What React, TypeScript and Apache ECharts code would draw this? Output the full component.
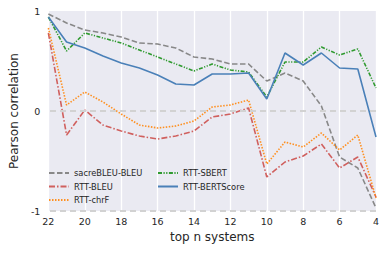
import React, { useEffect, useRef } from "react";
import * as echarts from "echarts";

const topN = [22, 21, 20, 19, 18, 17, 16, 15, 14, 13, 12, 11, 10, 9, 8, 7, 6, 5, 4];
const sacreBleu = [0.97, 0.88, 0.81, 0.78, 0.74, 0.68, 0.67, 0.63, 0.54, 0.52, 0.47, 0.47, 0.30, 0.38, 0.30, 0.05, -0.46, -0.57, -0.97];
const rttBleu = [0.78, -0.24, 0.01, -0.14, -0.20, -0.25, -0.28, -0.25, -0.20, -0.06, -0.03, 0.03, -0.66, -0.51, -0.45, -0.33, -0.57, -0.46, -0.86];
const rttChrf = [0.83, 0.06, 0.19, 0.09, -0.03, -0.14, -0.17, -0.15, -0.10, 0.04, 0.06, 0.11, -0.53, -0.31, -0.36, -0.22, -0.39, -0.24, -0.87];
const rttSbert = [0.94, 0.60, 0.78, 0.73, 0.68, 0.61, 0.54, 0.47, 0.40, 0.47, 0.41, 0.39, 0.14, 0.49, 0.49, 0.64, 0.56, 0.62, 0.23];
const rttBertScore = [0.94, 0.69, 0.63, 0.55, 0.48, 0.43, 0.36, 0.27, 0.26, 0.37, 0.37, 0.38, 0.12, 0.58, 0.46, 0.58, 0.43, 0.42, -0.26];
const refLines = [0, -1];

const FONT = "DejaVu Sans";

export default function App() {
  const ref = useRef<HTMLDivElement>(null);
  useEffect(() => {
    document.body.style.margin = "0";
    if (!ref.current) return;
    const chart = echarts.init(ref.current, undefined, { renderer: "svg" });
    const mk = (name: string, vals: number[], color: string, dash: number[] | string) => ({
      name,
      type: "line",
      data: topN.map((n, i) => [n, vals[i]]),
      symbol: "none",
      showSymbol: false,
      lineStyle: { color, width: 1.6, type: dash },
      itemStyle: { color },
    });
    const legendBase = {
      orient: "vertical",
      top: 168,
      padding: 0,
      itemWidth: 20,
      itemHeight: 10,
      itemGap: 3.5,
      itemStyle: { opacity: 0 },
      textStyle: { fontFamily: FONT, fontSize: 8.3, color: "#262626", lineHeight: 10 },
    };
    chart.setOption({
      animation: false,
      grid: {
        left: 42,
        right: 10,
        top: 11,
        bottom: 42,
        show: true,
        backgroundColor: "#EAEAF2",
        borderWidth: 0,
      },
      xAxis: {
        type: "value",
        inverse: true,
        min: 4,
        max: 22,
        interval: 2,
        name: "top n systems",
        nameLocation: "middle",
        nameGap: 20,
        nameTextStyle: { fontFamily: FONT, fontSize: 12, color: "#262626" },
        axisLine: { show: false },
        axisTick: { show: false },
        axisLabel: { fontFamily: FONT, fontSize: 9.5, color: "#262626", margin: 5 },
        splitLine: { show: true, lineStyle: { color: "#ffffff", width: 1.3 } },
      },
      yAxis: {
        type: "value",
        min: -1,
        max: 1,
        interval: 1,
        name: "Pearson correlation",
        nameLocation: "middle",
        nameGap: 23,
        nameTextStyle: { fontFamily: FONT, fontSize: 12, color: "#262626" },
        axisLine: { show: false },
        axisTick: { show: false },
        axisLabel: { fontFamily: FONT, fontSize: 9.5, color: "#262626", margin: 8 },
        splitLine: { show: false },
      },
      legend: [
        { ...legendBase, data: ["sacreBLEU-BLEU", "RTT-BLEU", "RTT-chrF"], left: 48 },
        { ...legendBase, data: ["RTT-SBERT", "RTT-BERTScore"], left: 157 },
      ],
      series: [
        {
          name: "ref",
          type: "line",
          data: [],
          silent: true,
          markLine: {
            silent: true,
            symbol: "none",
            label: { show: false },
            lineStyle: { color: "#d2d2d2", type: [6, 4], width: 1.8 },
            data: refLines.map((v) => ({ yAxis: v })),
          },
        },
        mk("sacreBLEU-BLEU", sacreBleu, "#888888", [5.5, 2.5]),
        mk("RTT-BLEU", rttBleu, "#d0605e", [6, 2, 1.5, 2]),
        mk("RTT-chrF", rttChrf, "#ff8f1f", [1.5, 1.5]),
        mk("RTT-SBERT", rttSbert, "#2f9a2f", [4, 1.5, 1.2, 1.5, 1.2, 1.5]),
        mk("RTT-BERTScore", rttBertScore, "#4a80b8", "solid"),
      ],
    });
    return () => chart.dispose();
  }, []);
  return <div ref={ref} style={{ width: 386, height: 253 }} />;
}
